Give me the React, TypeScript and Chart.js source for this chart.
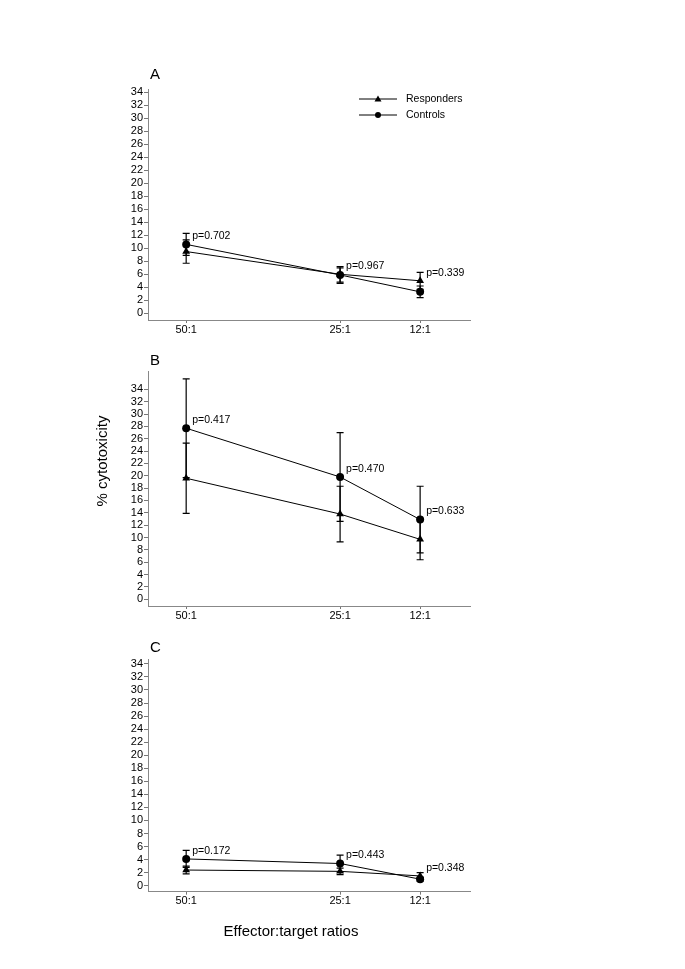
import React, { useEffect, useRef } from "react";
import { Chart, registerables } from "chart.js";

Chart.register(...registerables);

const ratios = [50, 25, 12];
const yTickValues = [0, 2, 4, 6, 8, 10, 12, 14, 16, 18, 20, 22, 24, 26, 28, 30, 32, 34];

const respA = [9.5, 6.0, 5.0];
const respALo = [7.7, 4.8, 3.7];
const respAHi = [11.3, 7.0, 6.3];
const ctrlA = [10.6, 5.9, 3.3];
const ctrlALo = [8.9, 4.6, 2.4];
const ctrlAHi = [12.3, 7.2, 4.2];
const pA = ["p=0.702", "p=0.967", "p=0.339"];

const respB = [19.6, 13.8, 9.7];
const respBLo = [13.9, 9.3, 6.4];
const respBHi = [25.3, 18.3, 13.0];
const ctrlB = [27.7, 19.8, 12.9];
const ctrlBLo = [19.7, 12.6, 7.5];
const ctrlBHi = [35.7, 27.0, 18.3];
const pB = ["p=0.417", "p=0.470", "p=0.633"];

const respC = [2.4, 2.2, 1.5];
const respCLo = [1.8, 1.7, 1.0];
const respCHi = [3.0, 2.7, 2.0];
const ctrlC = [4.1, 3.4, 1.0];
const ctrlCLo = [2.8, 2.1, 0.7];
const ctrlCHi = [5.4, 4.7, 1.3];
const pC = ["p=0.172", "p=0.443", "p=0.348"];

const FONT = "'Liberation Sans', Arial, Helvetica, sans-serif";

type Panel = {
  letter: string;
  top: number;
  height: number;
  padTop: number;
  padBottom: number;
  yMin: number;
  yMax: number;
  resp: number[];
  respLo: number[];
  respHi: number[];
  ctrl: number[];
  ctrlLo: number[];
  ctrlHi: number[];
  p: string[];
  legend?: boolean;
  yTitle?: boolean;
  xTitle?: boolean;
};

const panels: Panel[] = [
  { letter: "A", top: 40, height: 300, padTop: 49, padBottom: 0, yMin: -1.03, yMax: 34.5,
    resp: respA, respLo: respALo, respHi: respAHi, ctrl: ctrlA, ctrlLo: ctrlALo, ctrlHi: ctrlAHi, p: pA, legend: true },
  { letter: "B", top: 340, height: 286, padTop: 31.7, padBottom: 0, yMin: -1.09, yMax: 36.85,
    resp: respB, respLo: respBLo, respHi: respBHi, ctrl: ctrlB, ctrlLo: ctrlBLo, ctrlHi: ctrlBHi, p: pB, yTitle: true },
  { letter: "C", top: 630, height: 330, padTop: 29.3, padBottom: 48.3, yMin: -0.92, yMax: 34.7,
    resp: respC, respLo: respCLo, respHi: respCHi, ctrl: ctrlC, ctrlLo: ctrlCLo, ctrlHi: ctrlCHi, p: pC, xTitle: true },
];

function PanelChart({ panel }: { panel: Panel }) {
  const ref = useRef<HTMLCanvasElement | null>(null);
  useEffect(() => {
    if (!ref.current) return;
    const pl = panel;
    const overlay = {
      id: "overlay",
      beforeDatasetsDraw(chart: any) {
        const ctx = chart.ctx;
        const xs = chart.scales.x;
        const ys = chart.scales.y;
        ctx.save();
        ctx.strokeStyle = "#000";
        ctx.lineWidth = 1.2;
        const bars = [
          [pl.respLo, pl.respHi],
          [pl.ctrlLo, pl.ctrlHi],
        ];
        bars.forEach(([lo, hi]) => {
          ratios.forEach((r, i) => {
            const x = xs.getPixelForValue(r);
            const y1 = ys.getPixelForValue(lo[i]);
            const y2 = ys.getPixelForValue(hi[i]);
            ctx.beginPath();
            ctx.moveTo(x, y1);
            ctx.lineTo(x, y2);
            ctx.moveTo(x - 3.5, y1);
            ctx.lineTo(x + 3.5, y1);
            ctx.moveTo(x - 3.5, y2);
            ctx.lineTo(x + 3.5, y2);
            ctx.stroke();
          });
        });
        ctx.restore();
      },
      afterDatasetsDraw(chart: any) {
        const ctx = chart.ctx;
        const xs = chart.scales.x;
        const ys = chart.scales.y;
        const area = chart.chartArea;
        ctx.save();
        ctx.strokeStyle = "#000";
        ctx.fillStyle = "#000";
        // p-values
        ctx.font = `10.5px ${FONT}`;
        ctx.textAlign = "left";
        ctx.textBaseline = "middle";
        ratios.forEach((r, i) => {
          const x = xs.getPixelForValue(r);
          const y = Math.min(ys.getPixelForValue(pl.resp[i]), ys.getPixelForValue(pl.ctrl[i]));
          ctx.fillText(pl.p[i], x + 6, y - 8);
        });
        // panel letter
        ctx.font = `15px ${FONT}`;
        ctx.textBaseline = "middle";
        ctx.fillText(pl.letter, area.left + 2, area.top - (pl.letter === "A" ? 14 : 11));
        // legend
        if (pl.legend) {
          const lx1 = area.left + 211;
          const lx2 = area.left + 249;
          const items = [
            { label: "Responders", style: "tri" },
            { label: "Controls", style: "circ" },
          ];
          items.forEach((it, k) => {
            const y = area.top + 10 + k * 16;
            ctx.lineWidth = 1;
            ctx.beginPath();
            ctx.moveTo(lx1, y);
            ctx.lineTo(lx2, y);
            ctx.stroke();
            const mx = (lx1 + lx2) / 2;
            ctx.beginPath();
            if (it.style === "tri") {
              ctx.moveTo(mx, y - 3.5);
              ctx.lineTo(mx + 3.5, y + 2.5);
              ctx.lineTo(mx - 3.5, y + 2.5);
              ctx.closePath();
            } else {
              ctx.arc(mx, y, 3, 0, Math.PI * 2);
            }
            ctx.fill();
            ctx.font = `10.5px ${FONT}`;
            ctx.textAlign = "left";
            ctx.fillText(it.label, lx2 + 9, y);
          });
        }
        if (pl.yTitle) {
          ctx.save();
          ctx.translate(103, 121);
          ctx.rotate(-Math.PI / 2);
          ctx.font = `15px ${FONT}`;
          ctx.textAlign = "center";
          ctx.textBaseline = "middle";
          ctx.fillText("% cytotoxicity", 0, 0);
          ctx.restore();
        }
        if (pl.xTitle) {
          ctx.font = `15px ${FONT}`;
          ctx.textAlign = "center";
          ctx.textBaseline = "middle";
          ctx.fillText("Effector:target ratios", 291, 302);
        }
        ctx.restore();
      },
    };

    const mk = (vals: number[]) => ratios.map((r, i) => ({ x: r, y: vals[i] }));

    const chart = new Chart(ref.current, {
      type: "line",
      data: {
        datasets: [
          {
            label: "Responders",
            data: mk(pl.resp),
            borderColor: "#000",
            backgroundColor: "#000",
            borderWidth: 1,
            pointStyle: "triangle",
            pointRadius: 4.5,
            pointBorderWidth: 0,
          },
          {
            label: "Controls",
            data: mk(pl.ctrl),
            borderColor: "#000",
            backgroundColor: "#000",
            borderWidth: 1,
            pointStyle: "circle",
            pointRadius: 4,
            pointBorderWidth: 0,
          },
        ],
      },
      options: {
        animation: false,
        responsive: false,
        maintainAspectRatio: false,
        layout: { padding: { left: 0, right: 215, top: pl.padTop, bottom: pl.padBottom } },
        plugins: { legend: { display: false }, tooltip: { enabled: false }, title: { display: false } },
        scales: {
          x: {
            type: "linear",
            reverse: true,
            min: 3.9,
            max: 56.2,
            afterBuildTicks: (s: any) => {
              s.ticks = ratios.map((v) => ({ value: v }));
            },
            afterFit: (s: any) => {
              s.height = 20;
            },
            ticks: {
              callback: (v: any) => `${v}:1`,
              color: "#000",
              font: { family: FONT, size: 11 },
              padding: 0,
              maxRotation: 0,
              autoSkip: false,
            },
            grid: { drawOnChartArea: false, drawTicks: true, tickLength: 3, color: "#777" },
            border: { display: true, color: "#888", width: 1 },
          },
          y: {
            type: "linear",
            min: pl.yMin,
            max: pl.yMax,
            afterBuildTicks: (s: any) => {
              s.ticks = yTickValues.map((v) => ({ value: v }));
            },
            afterFit: (s: any) => {
              s.width = 148;
            },
            ticks: {
              color: "#000",
              font: { family: FONT, size: 11 },
              padding: 1,
              autoSkip: false,
            },
            grid: { drawOnChartArea: false, drawTicks: true, tickLength: 4, color: "#777" },
            border: { display: true, color: "#888", width: 1 },
          },
        },
      },
      plugins: [overlay],
    } as any);
    return () => chart.destroy();
  }, [panel]);

  return (
    <canvas
      ref={ref}
      width={685}
      height={panel.height}
      style={{ position: "absolute", left: 0, top: panel.top, width: 685, height: panel.height }}
    />
  );
}

export default function App() {
  return (
    <div style={{ position: "absolute", left: 0, top: 0, width: 685, height: 969, background: "#fff" }}>
      {panels.map((p) => (
        <PanelChart key={p.letter} panel={p} />
      ))}
    </div>
  );
}
